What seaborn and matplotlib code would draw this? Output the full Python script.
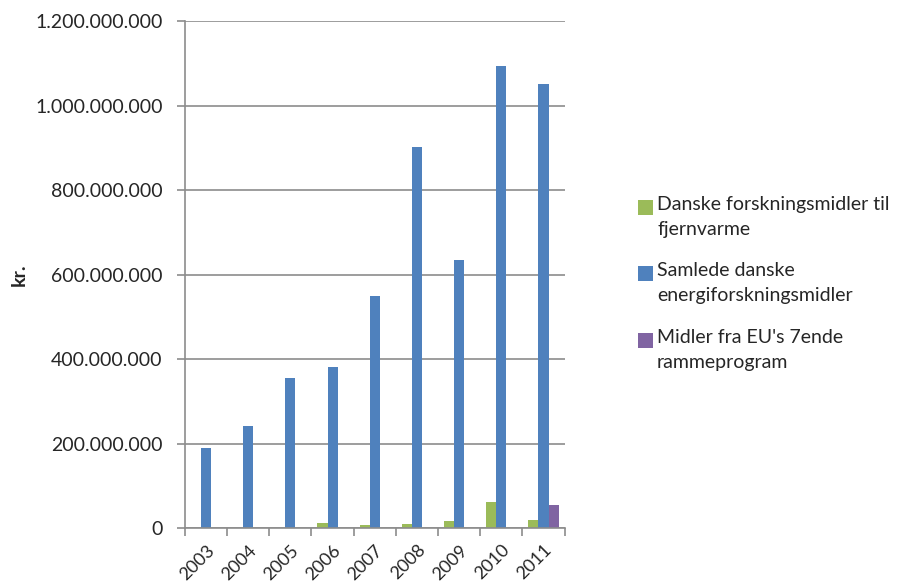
import matplotlib
matplotlib.use("Agg")
import matplotlib.pyplot as plt
from matplotlib.ticker import FuncFormatter, FixedLocator
from matplotlib.patches import Rectangle
import seaborn as sns
import pandas as pd

years = ["2003", "2004", "2005", "2006", "2007", "2008", "2009", "2010", "2011"]
fjernvarme = [0, 0, 0, 11e6, 6e6, 10e6, 17e6, 61e6, 20e6]
samlede = [190e6, 241e6, 355e6, 381e6, 549e6, 902e6, 635e6, 1095e6, 1051e6]
eu7 = [0, 0, 0, 0, 0, 0, 0, 0, 54e6]
series_labels = [
    "Danske forskningsmidler til\nfjernvarme",
    "Samlede danske\nenergiforskningsmidler",
    "Midler fra EU's 7ende\nrammeprogram",
]
colors = ["#9BBB59", "#4F81BD", "#8064A2"]
y_ticks = [0, 200e6, 400e6, 600e6, 800e6, 1000e6, 1200e6]

rows = []
for lab, vals in zip(series_labels, [fjernvarme, samlede, eu7]):
    for y, v in zip(years, vals):
        rows.append({"year": y, "value": v, "series": lab})
df = pd.DataFrame(rows)

sns.set_theme(style="white")
plt.rcParams["font.family"] = ["Lato", "DejaVu Sans"]
text_color = "#262626"
fs = 14

fig = plt.figure(figsize=(9.02, 5.88), dpi=100)
ax = fig.add_axes([0.205, 0.102, 0.421, 0.862])

sns.barplot(data=df, x="year", y="value", hue="series", order=years,
            hue_order=series_labels, palette=colors, width=0.72,
            saturation=1, linewidth=0, errorbar=None, ax=ax, legend=False)

ax.set_ylim(0, 1200e6)
ax.set_xlim(-0.5, len(years) - 0.5)
ax.yaxis.set_major_locator(FixedLocator(y_ticks))
ax.yaxis.set_major_formatter(FuncFormatter(lambda v, p: f"{int(round(v)):,}".replace(",", ".")))
ax.grid(axis="y", color="#8c8c8c", linewidth=1.2)
ax.set_axisbelow(True)

for s in ["top", "right"]:
    ax.spines[s].set_visible(False)
for s in ["left", "bottom"]:
    ax.spines[s].set_color("#8c8c8c")
    ax.spines[s].set_linewidth(1.2)

ax.tick_params(axis="y", left=True, length=6, width=1.2, color="#8c8c8c",
               labelsize=fs, labelcolor=text_color, pad=10)
ax.set_xticks(range(len(years)))
ax.set_xticklabels(years, rotation=45, ha="right", rotation_mode="anchor",
                   fontsize=13, color=text_color)
ax.tick_params(axis="x", bottom=False, pad=4)
ax.set_xticks([i - 0.5 for i in range(len(years) + 1)], minor=True)
ax.tick_params(axis="x", which="minor", bottom=True, length=6, width=1.2, color="#8c8c8c")

ax.set_xlabel("")
ax.set_ylabel("kr.", fontsize=fs, fontweight="bold", color=text_color)
ax.yaxis.set_label_coords(-0.415, 0.5)

# legend drawn manually: marker beside first line of each two-line label
W, H = 902.0, 588.0
first_line_centers = [207, 273, 340]
for lab, col, yc in zip(series_labels, colors, first_line_centers):
    fig.patches.append(Rectangle((638 / W, 1 - (yc + 7.5) / H), 15 / W, 15 / H,
                                 transform=fig.transFigure, facecolor=col,
                                 edgecolor="none"))
    fig.text(657 / W, 1 - (yc - 11) / H, lab, ha="left", va="top", fontsize=fs,
             color=text_color, linespacing=1.6)

fig.savefig("out.png", dpi=100)
